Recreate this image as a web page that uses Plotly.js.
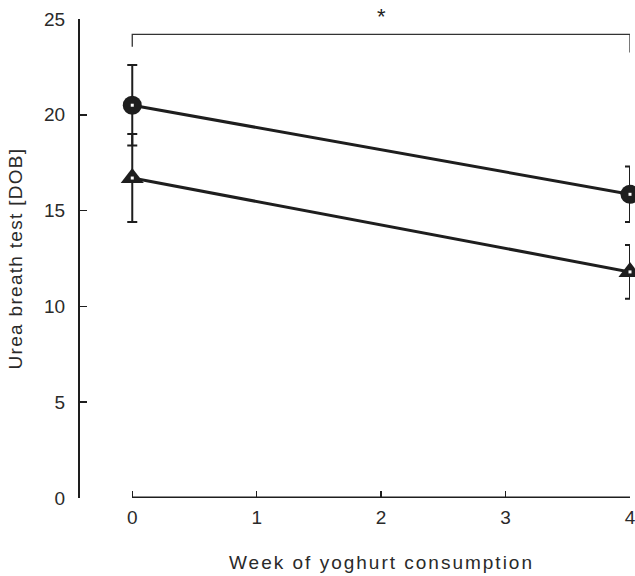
<!DOCTYPE html>
<html>
<head>
<meta charset="utf-8">
<script src="https://cdn.plot.ly/plotly-3.0.1.min.js"></script>
<style>
html,body{margin:0;padding:0;background:#fff;}
#chart{width:635px;height:576px;}
.ytitle{letter-spacing:1.3px;}
.annotation-text.xlab{letter-spacing:2px;}
</style>
</head>
<body>
<div id="chart"></div>
<script>
// Data
const weeks = [0, 4];
const tickWeeks = [0, 1, 2, 3, 4];
const yTicks = [0, 5, 10, 15, 20, 25];
const circleMeans = [20.5, 15.85];
const circleErr = [2.1, 1.45];
const triangleMeans = [16.7, 11.8];
const triangleErr = [2.3, 1.4];
const bracketX = [0, 0, 4, 4];
const bracketY = [23.55, 24.2, 24.2, 23.25];
const sigLabel = '*';
const sigX = 2;
const xTitle = 'Week of yoghurt consumption';
const yTitle = 'Urea breath test [DOB]';

const ink = '#1e1e1e';
const font = {family: '"Liberation Sans", Arial, sans-serif', size: 19, color: '#2a2a2a'};

function series(y, err, symbol, size) {
  return {
    x: weeks, y: y, type: 'scatter', mode: 'lines+markers', showlegend: false,
    cliponaxis: false,
    line: {color: ink, width: 3},
    marker: {symbol: symbol, size: size, color: ink, line: {width: 0}},
    error_y: {type: 'data', array: err, visible: true, color: ink, thickness: 2, width: 5}
  };
}
function dots(y) {
  return {
    x: weeks, y: y, type: 'scatter', mode: 'markers', showlegend: false, cliponaxis: false,
    marker: {symbol: 'square', size: 3, color: '#ffffff', line: {width: 0}}, hoverinfo: 'skip'
  };
}

const traces = [
  {x: bracketX, y: bracketY, type: 'scatter', mode: 'lines', showlegend: false, cliponaxis: false,
   line: {color: '#333', width: 1.3}, hoverinfo: 'skip'},
  series(circleMeans, circleErr, 'circle', 19),
  series(triangleMeans, triangleErr, 'triangle-up', 20),
  dots(circleMeans),
  dots(triangleMeans)
];

const layout = {
  width: 635, height: 576,
  margin: {l: 80, r: 5, t: 19, b: 78},
  paper_bgcolor: '#fff', plot_bgcolor: '#fff',
  font: font,
  showlegend: false,
  xaxis: {
    range: [-0.42, 4.0],
    tickvals: tickWeeks, ticktext: tickWeeks.map(String),
    ticks: 'inside', ticklen: 7, tickwidth: 1.5, tickcolor: ink,
    showline: false, showgrid: false, zeroline: false,
    tickfont: font, ticklabelstandoff: 6, ticklabeloverflow: 'allow'
  },
  yaxis: {
    range: [0, 25],
    tickvals: yTicks,
    ticks: 'inside', ticklen: 7, tickwidth: 1.5, tickcolor: ink,
    showline: true, linecolor: ink, linewidth: 2,
    showgrid: false, zeroline: false,
    tickfont: font, ticklabelstandoff: 9,
    title: {text: yTitle, font: font, standoff: 16}
  },
  shapes: [
    {type: 'line', xref: 'x', yref: 'y', x0: tickWeeks[0], x1: tickWeeks[tickWeeks.length - 1], y0: 0, y1: 0,
     line: {color: ink, width: 3}}
  ],
  annotations: [
    {x: sigX, y: 1.006, xref: 'x', yref: 'paper', text: sigLabel, showarrow: false,
     font: {family: font.family, size: 22, color: '#222'}, yanchor: 'middle'},
    {x: sigX, y: 0, xref: 'x', yref: 'paper', text: xTitle, showarrow: false,
     font: font, yanchor: 'middle', yshift: -64}
  ]
};

Plotly.newPlot('chart', traces, layout, {displayModeBar: false, staticPlot: true}).then(function (gd) {
  const anns = gd.querySelectorAll('.annotation-text');
  anns.forEach(function (t) { if (t.textContent === xTitle) t.classList.add('xlab'); });
});
</script>
</body>
</html>
